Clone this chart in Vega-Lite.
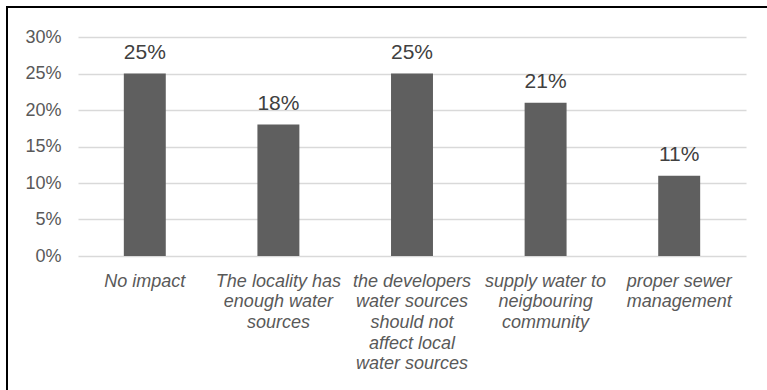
{
  "$schema": "https://vega.github.io/schema/vega-lite/v6.json",
  "autosize": "none",
  "padding": {"left": 7, "top": 7, "right": 0, "bottom": 0},
  "width": 770,
  "height": 390,
  "background": "white",
  "config": {
    "font": "Liberation Sans",
    "view": {"stroke": "#000000", "strokeWidth": 2}
  },
  "data": {
    "values": [
      {"category": "No impact", "value": 0.25},
      {"category": "The locality has|enough water|sources", "value": 0.18},
      {"category": "the developers|water sources|should not|affect local|water sources", "value": 0.25},
      {"category": "supply water to|neigbouring|community", "value": 0.21},
      {"category": "proper sewer|management", "value": 0.11}
    ]
  },
  "encoding": {
    "x": {
      "field": "category",
      "type": "nominal",
      "sort": null,
      "scale": {"range": [71, 739], "paddingInner": 0.686, "paddingOuter": 0.343},
      "axis": {
        "title": null,
        "orient": "bottom",
        "offset": -141,
        "labelAngle": 0,
        "labelExpr": "split(datum.label, '|')",
        "labelFont": "Liberation Sans",
        "labelFontSize": 18,
        "labelFontStyle": "italic",
        "labelColor": "#595959",
        "labelLineHeight": 20.7,
        "labelBaseline": "top",
        "labelPadding": 16,
        "labelOverlap": false,
        "labelBound": false,
        "labelLimit": 300,
        "domain": false,
        "ticks": false,
        "tickSize": 0,
        "grid": false
      }
    },
    "y": {
      "field": "value",
      "type": "quantitative",
      "scale": {"domain": [0, 0.3], "range": [249, 30], "nice": false, "zero": true},
      "axis": {
        "title": null,
        "orient": "left",
        "offset": -71,
        "values": [0, 0.05, 0.1, 0.15, 0.2, 0.25, 0.3],
        "format": ".0%",
        "labelFont": "Liberation Sans",
        "labelFontSize": 18,
        "labelColor": "#595959",
        "labelPadding": 17,
        "domain": false,
        "ticks": false,
        "tickSize": 0,
        "grid": true,
        "gridColor": "#d9d9d9",
        "gridWidth": 1.3
      }
    }
  },
  "layer": [
    {"mark": {"type": "bar", "color": "#5f5f5f"}},
    {
      "mark": {"type": "text", "baseline": "alphabetic", "dy": -15, "fontSize": 21, "color": "#404040", "font": "Liberation Sans"},
      "encoding": {"text": {"field": "value", "type": "quantitative", "format": ".0%"}}
    }
  ]
}
